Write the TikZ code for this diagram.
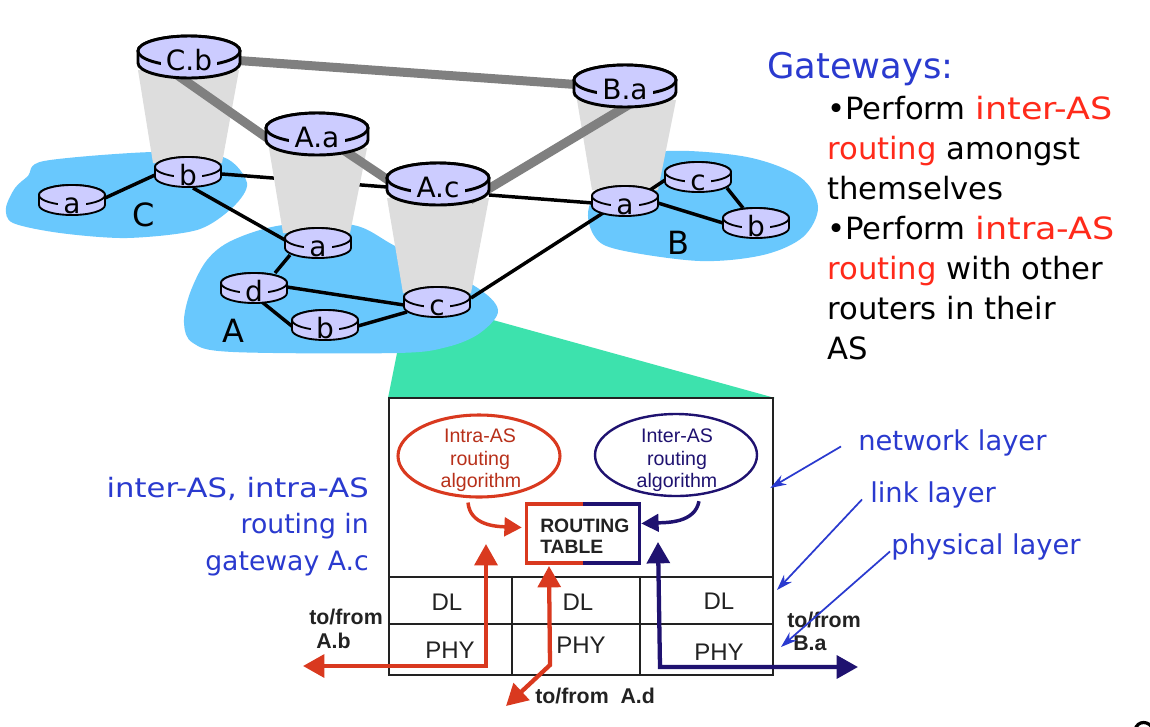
\documentclass[tikz,border=0pt]{standalone}
\usepackage{fontspec}
\setmainfont{DejaVu Sans}
\newfontfamily\arialf{Liberation Sans}
\usetikzlibrary{calc,arrows.meta,shapes.geometric}
\pgfdeclarelayer{paper}\pgfdeclarelayer{base}\pgfdeclarelayer{cone}\pgfdeclarelayer{conn}
\pgfsetlayers{paper,base,cone,conn,main}
\definecolor{lav}{HTML}{CCCCFF}
\definecolor{skyb}{HTML}{69C8FD}
\definecolor{teal2}{HTML}{3DE2AD}
\definecolor{conegray}{HTML}{DDDDDD}
\definecolor{txtblue}{HTML}{2A3ACF}
\definecolor{txtred}{HTML}{FF2A1A}
\definecolor{ared}{HTML}{D9391F}
\definecolor{anavy}{HTML}{1F1270}
\definecolor{dark}{HTML}{222222}
\tikzset{
  x=0.75pt,y=-0.75pt,
  blob/.style={fill=skyb,draw=none},
  conefill/.style={fill=conegray,draw=none},
  gray link/.style={draw=black!50,line width=6.75pt},
  black link/.style={draw=black,line width=2.6pt},
  hit/.style={inner sep=0pt,minimum width=60pt,minimum height=25pt},
  rlabel/.style={fill=lav,inner sep=0pt,inner xsep=4pt,anchor=base,font=\fontsize{21}{21}\selectfont},
  aslabel/.style={inner sep=0pt,anchor=base,font=\fontsize{24}{24}\selectfont},
  gwtext/.style={inner sep=0pt,anchor=base west,font=\fontsize{23}{23}\selectfont},
  layertext/.style={inner sep=0pt,anchor=base west,text=txtblue,font=\fontsize{20.5}{20.5}\selectfont},
  sidetext/.style={inner sep=0pt,anchor=base east,text=txtblue,font=\fontsize{20}{20}\selectfont},
  boxline/.style={draw=dark,line width=2.1pt},
  boxthin/.style={draw=dark,line width=1.8pt},
  algo/.style={inner sep=0pt,anchor=base,font=\arialf\fontsize{14.7}{14.7}\selectfont},
  cell/.style={inner sep=0pt,anchor=center,text=dark,font=\arialf\fontsize{18}{18}\selectfont},
  bold label/.style={inner sep=0pt,anchor=base west,text=dark,font=\arialf\bfseries\fontsize{16}{16}\selectfont},
  thin arrow/.style={draw=txtblue,line width=1.3pt,-{Stealth[length=12pt,width=8pt]}},
  big red/.style={draw=ared,line width=3.2pt},
  big navy/.style={draw=anavy,line width=3.2pt},
}
\newcommand\bigrtr[4]{%
  \node[hit,minimum width=76.5pt,minimum height=31pt] (#1) at (#2,#3) {};
  \filldraw[fill=lav,draw=black,line width=2.2pt,shift={(#2,#3)}]
    (-51,-6) -- (-51,6) arc[start angle=180,end angle=360,x radius=38.25pt,y radius=11.25pt] -- (51,-6)
    arc[start angle=0,end angle=180,x radius=38.25pt,y radius=11.25pt] -- cycle;
  \draw[fill=lav,draw=black,line width=2.2pt,shift={(#2,#3)}] (0,-6) ellipse[x radius=38.25pt,y radius=11.25pt];
  \node[rlabel] (#1-t) at (#2,#3+13) {#4};
}
\newcommand\smrtr[4]{%
  \node[hit,minimum width=49.5pt,minimum height=22pt] (#1) at (#2,#3) {};
  \filldraw[fill=lav,draw=black,line width=1.4pt,shift={(#2,#3)}]
    (-33,-5) -- (-33,5) arc[start angle=180,end angle=360,x radius=24.75pt,y radius=7.5pt] -- (33,-5)
    arc[start angle=0,end angle=180,x radius=24.75pt,y radius=7.5pt] -- cycle;
  \draw[fill=lav,draw=black,line width=1.4pt,shift={(#2,#3)}] (0,-5) ellipse[x radius=24.75pt,y radius=7.5pt];
  \node[rlabel] (#1-t) at (#2,#3+13) {#4};
}
\begin{document}
\begin{tikzpicture}
\useasboundingbox (0,0) rectangle (1150,726);
\begin{pgfonlayer}{paper}
\fill[white] (0,0) rectangle (1150,726);
\end{pgfonlayer}

% routers
\bigrtr{Cb}{189}{57}{C.b}
\bigrtr{Aa}{317}{134}{A.a}
\bigrtr{Ac}{438}{184}{A.c}
\bigrtr{Ba}{625}{86}{B.a}
\smrtr{ca}{72}{200}{a}
\smrtr{cb}{188}{172}{b}
\smrtr{aa}{318}{243}{a}
\smrtr{ad}{254}{288}{d}
\smrtr{ab}{325}{325}{b}
\smrtr{ac}{437}{302}{c}
\smrtr{ba}{625}{201}{a}
\smrtr{bc}{698}{177}{c}
\smrtr{bb}{756}{223}{b}

\begin{pgfonlayer}{base}
  \fill[teal2] (397,353) -- (493,320) -- (775,398) -- (388,398) -- cycle;
  \path[blob] plot[smooth cycle,tension=.5] coordinates {(44,161) (153,152) (223,157) (247,183) (233,207) (197,230) (127,238) (60,233) (13,223) (6,208) (15,188) (28,176)};
  \path[blob] plot[smooth cycle,tension=.55] coordinates {(283,225) (353,225) (397,247) (473,285) (498,310) (480,333) (447,347) (397,353) (233,352) (193,343) (184,323) (190,293) (207,260) (233,240)};
  \path[blob] plot[smooth cycle,tension=.55] coordinates {(615,165) (667,151) (747,157) (800,177) (818,207) (803,237) (763,255) (700,261) (620,250) (595,237) (589,207)};
  \draw[black link] ($(cb)+(34,2)$) -- ($(Ac)+(-51,3)$);
\end{pgfonlayer}

\begin{pgfonlayer}{cone}
  \path[conefill] ($(Cb)+(-51,13)$) -- ($(Cb)+(50,13)$) -- ($(cb)+(34,-9)$) -- ($(cb)+(-35,-9)$) -- cycle;
  \path[conefill] ($(Aa)+(-48,14)$) -- ($(Aa)+(50,14)$) -- ($(aa)+(32,-10)$) -- ($(aa)+(-35,-10)$) -- cycle;
  \path[conefill] ($(Ac)+(-51,14)$) -- ($(Ac)+(51,14)$) -- ($(ac)+(34,-9)$) -- ($(ac)+(-34,-9)$) -- cycle;
  \path[conefill] ($(Ba)+(-48,14)$) -- ($(Ba)+(51,14)$) -- ($(ba)+(33,-11)$) -- ($(ba)+(-33,-11)$) -- cycle;
\end{pgfonlayer}

\begin{pgfonlayer}{conn}
  \draw[gray link] ($(Cb)+(0,0)$) -- ($(Ba)+(0,2)$);
  \draw[gray link] ($(Cb)+(-19,13)$) -- ($(Aa)+(-37,13)$);
  \draw[gray link] ($(Aa)+(13,7)$) -- ($(Ac)+(-38,4)$);
  \draw[gray link] ($(Ac)+(32,16)$) -- ($(Ba)+(10,15)$);
  \draw[black link] ($(ca)+(33,-2)$) -- ($(cb)+(-33,3)$);
  \draw[black link] ($(cb)+(5,16)$) -- ($(aa)+(-33,-3)$);
  \draw[black link] ($(aa)+(-28,12)$) -- ($(ad)+(21,-15)$);
  \draw[black link] ($(ad)+(33,-1)$) -- ($(ac)+(-33,3)$);
  \draw[black link] ($(ad)+(8,14)$) -- ($(ab)+(-32,2)$);
  \draw[black link] ($(ab)+(33,1)$) -- ($(ac)+(-30,10)$);
  \draw[black link] ($(ac)+(34,-4)$) -- ($(ba)+(-22,12)$);
  \draw[black link] ($(Ac)+(51,11)$) -- ($(ba)+(-32,2)$);
  \draw[black link] ($(ba)+(25,-11)$) -- ($(bc)+(-33,3)$);
  \draw[black link] ($(ba)+(33,2)$) -- ($(bb)+(-33,0)$);
  \draw[black link] ($(bc)+(29,11)$) -- ($(bb)+(-13,-15)$);
\end{pgfonlayer}

% AS labels
\node[aslabel] (lblC) at (144,226) {C};
\node[aslabel] (lblA) at (233,342) {A};
\node[aslabel] (lblB) at (678,254) {B};

% Gateways text
\node[inner sep=0pt,anchor=base west,text=txtblue,font=\fontsize{26.5}{26.5}\selectfont] (gw) at (767,78) {Gateways:};
\node[gwtext] (g1) at (827,119) {•Perform \textcolor{txtred}{\scalebox{1.14}[1]{inter-AS}}};
\node[gwtext] (g2) at (827,159) {\textcolor{txtred}{routing} amongst};
\node[gwtext] (g3) at (827,199) {themselves};
\node[gwtext] (g4) at (827,239) {•Perform \textcolor{txtred}{\scalebox{1.14}[1]{intra-AS}}};
\node[gwtext] (g5) at (827,279) {\textcolor{txtred}{routing} with other};
\node[gwtext] (g6) at (827,319) {routers in their};
\node[gwtext] (g7) at (827,359) {AS};

% side text
\node[sidetext] (s1) at (369,497) {\scalebox{1.15}[1]{inter-AS, intra-AS}};
\node[sidetext] (s2) at (369,533) {routing in};
\node[sidetext] (s3) at (369,570) {gateway A.c};
\node[layertext] (net) at (858,450) {network layer};
\node[layertext] (lnk) at (870,502) {link layer};
\node[layertext] (phy) at (891,554) {physical layer};

% gateway box
\node[draw=none,inner sep=0pt,minimum width=288pt,minimum height=208.5pt] (gbox) at (581,537) {};
\draw[boxline] (389,398) rectangle (773,675);
\draw[boxline] (389,577) -- (773,577);
\draw[boxthin] (389,624) -- (773,624);
\draw[boxline] (512,577) -- (512,675);
\draw[boxline] (640,577) -- (640,675);

\node[cell] (dl1) at (447,602) {DL};
\node[cell] (dl2) at (578,602) {DL};
\node[cell] (dl3) at (719,601) {DL};
\node[cell] (ph1) at (450,650) {PHY};
\node[cell] (ph2) at (581,645) {PHY};
\node[cell] (ph3) at (719,652) {PHY};

% algorithms
\node[draw=ared,line width=2.3pt,shape=ellipse,inner sep=0pt,minimum width=121.5pt,minimum height=61.5pt] (intra) at (479,456) {};
\node[draw=anavy,line width=1.8pt,shape=ellipse,inner sep=0pt,minimum width=121.5pt,minimum height=61.5pt] (inter) at (676,455) {};
\node[algo,text=ared!85!black] at (480,442) {Intra-AS};
\node[algo,text=ared!85!black] at (480,465) {routing};
\node[algo,text=ared!85!black] at (481,487) {algorithm};
\node[algo,text=anavy] at (677,442) {Inter-AS};
\node[algo,text=anavy] at (677,465) {routing};
\node[algo,text=anavy] at (677,487) {algorithm};

% routing table
\node[inner sep=0pt,minimum width=84pt,minimum height=44pt] (rt) at (583,533.5) {};
\draw[big navy,line width=2.6pt] (rt.north) -- (rt.north east) -- (rt.south east) -- (rt.south);
\draw[big red,line width=2.6pt] (rt.north) -- (rt.north west) -- (rt.south west) -- (rt.south);
\node[inner sep=0pt,anchor=base west,text=dark,font=\arialf\bfseries\fontsize{14.5}{14.5}\selectfont] (rt1) at (540,532) {ROUTING};
\node[inner sep=0pt,anchor=base west,text=dark,font=\arialf\bfseries\fontsize{14.5}{14.5}\selectfont] (rt2) at (540,553) {TABLE};

% bold labels
\node[bold label] (t1) at (309,624) {to/from};
\node[bold label] (t2) at (316,648) {A.b};
\node[bold label] (t3) at (535,703) {to/from\ \ A.d};
\node[bold label] (t4) at (787,627) {to/from};
\node[bold label] (t5) at (793,650) {B.a};

% arrows
\draw[big red,line width=2.6pt,-{Triangle[length=13pt,width=14pt]}] ($(intra.south)+(-11,4)$) .. controls +(2,23) and +(-25,-1) .. ($(rt.west)+(-5,-6)$);
\draw[big navy,line width=2.6pt,-{Triangle[length=13pt,width=13pt]}] ($(inter.south)+(23,4)$) .. controls +(-4,22) and +(25,-1) .. ($(rt.east)+(2,-10)$);
\coordinate (abEnd) at (303,666);
\coordinate (abUp) at (486,544);
\coordinate (adEnd) at (506,706);
\coordinate (adUp) at (549,566);
\coordinate (baEnd) at (858,667);
\coordinate (baUp) at (658,542);
\draw[big red,{Triangle[length=16pt,width=17pt]}-{Triangle[length=16pt,width=17pt]}] (abEnd) -- (486,666) -- (abUp);
\draw[big red,{Triangle[length=16pt,width=17pt]}-{Triangle[length=16pt,width=17pt]}] (adEnd) -- (550,665) -- (adUp);
\draw[big navy,{Triangle[length=16pt,width=17pt]}-{Triangle[length=16pt,width=17pt]}] (baUp) -- (660,667) -- (baEnd);

\draw[thin arrow] ($(net.west)+(-17,4)$) -- ($(gbox.east)+(-3,-49)$);
\draw[thin arrow] ($(lnk.west)+(-8,5)$) -- (777,590);
\draw[thin arrow] ($(phy.west)+(-1,5)$) -- (781,647);

% page number fragment
\draw[black,line width=2.4pt] (1135,730) .. controls (1137,720) and (1150,720) .. (1153,730);
\end{tikzpicture}
\end{document}
